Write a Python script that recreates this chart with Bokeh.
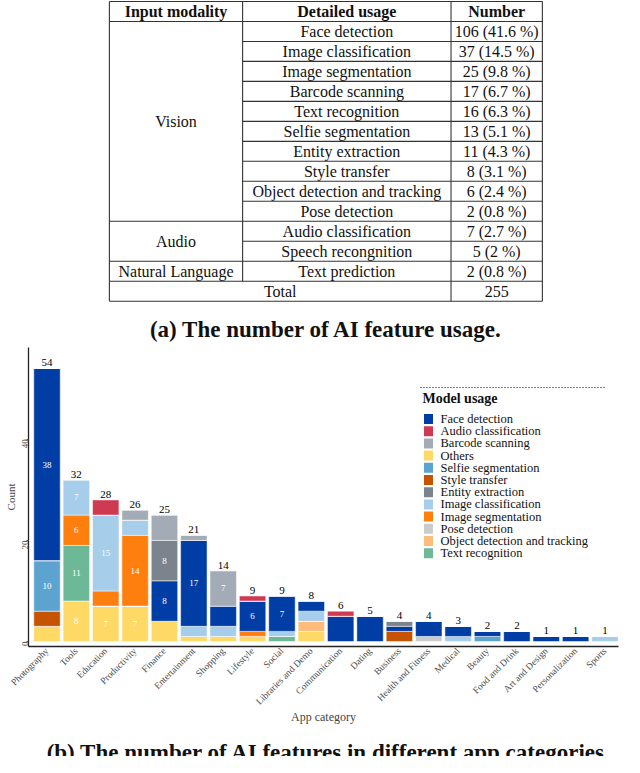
from math import pi
import numpy as np
from bokeh.plotting import figure
from bokeh.layouts import column
from bokeh.models import Range1d, FixedTicker, ColumnDataSource
from bokeh.core.properties import value
from bokeh.embed import file_html
from bokeh.resources import INLINE

SERIF = "Liberation Serif"

# ---------------- table data ----------------
headers = ["Input modality", "Detailed usage", "Number"]
modalities = ["Vision", "Audio", "Natural Language"]
modality_rows = [10, 2, 1]
usages = ["Face detection", "Image classification", "Image segmentation", "Barcode scanning",
          "Text recognition", "Selfie segmentation", "Entity extraction", "Style transfer",
          "Object detection and tracking", "Pose detection", "Audio classification",
          "Speech recongnition", "Text prediction"]
numbers = ["106 (41.6 %)", "37 (14.5 %)", "25 (9.8 %)", "17 (6.7 %)", "16 (6.3 %)",
           "13 (5.1 %)", "11 (4.3 %)", "8 (3.1 %)", "6 (2.4 %)", "2 (0.8 %)",
           "7 (2.7 %)", "5 (2 %)", "2 (0.8 %)"]
total_label = "Total"
total_value = "255"
caption_a = "(a) The number of AI feature usage."
caption_b = "(b) The number of AI features in different app categories"

# ---------------- chart data ----------------
categories = ["Photography", "Tools", "Education", "Productivity", "Finance", "Entertainment",
              "Shopping", "Lifestyle", "Social", "Libraries and Demo", "Communication", "Dating",
              "Business", "Health and Fitness", "Medical", "Beauty", "Food and Drink",
              "Art and Design", "Personalization", "Sports"]
face_detection       = [38, 0, 0, 0, 8, 17, 4, 6, 7, 2, 5, 5, 1, 3, 2, 1, 2, 1, 1, 0]
audio_classification = [0, 0, 3, 0, 0, 0, 0, 1, 0, 0, 1, 0, 0, 0, 0, 0, 0, 0, 0, 0]
barcode_scanning     = [0, 0, 0, 2, 5, 1, 7, 0, 0, 0, 0, 0, 0, 0, 0, 0, 0, 0, 0, 0]
others               = [3, 8, 7, 7, 4, 1, 1, 1, 0, 2, 0, 0, 0, 0, 0, 0, 0, 0, 0, 0]
selfie_segmentation  = [10, 0, 0, 0, 0, 0, 0, 0, 0, 0, 0, 0, 0, 0, 0, 1, 0, 0, 0, 0]
style_transfer       = [3, 0, 0, 0, 0, 0, 0, 0, 0, 0, 0, 0, 2, 0, 0, 0, 0, 0, 0, 0]
entity_extraction    = [0, 0, 0, 0, 8, 0, 0, 0, 0, 0, 0, 0, 1, 0, 0, 0, 0, 0, 0, 0]
image_classification = [0, 7, 15, 3, 0, 2, 2, 0, 1, 2, 0, 0, 0, 0, 1, 0, 0, 0, 0, 1]
image_segmentation   = [0, 6, 3, 14, 0, 0, 0, 1, 0, 0, 0, 0, 0, 0, 0, 0, 0, 0, 0, 0]
pose_detection       = [0, 0, 0, 0, 0, 0, 0, 0, 0, 0, 0, 0, 0, 1, 0, 0, 0, 0, 0, 0]
object_detection     = [0, 0, 0, 0, 0, 0, 0, 0, 0, 2, 0, 0, 0, 0, 0, 0, 0, 0, 0, 0]
text_recognition     = [0, 11, 0, 0, 0, 0, 0, 0, 1, 0, 0, 0, 0, 0, 0, 0, 0, 0, 0, 0]
y_ticks = [0, 20, 40]

legend_title = "Model usage"
legend_order = ["Face detection", "Audio classification", "Barcode scanning", "Others",
                "Selfie segmentation", "Style transfer", "Entity extraction",
                "Image classification", "Image segmentation", "Pose detection",
                "Object detection and tracking", "Text recognition"]
series = {
    "Face detection": face_detection, "Audio classification": audio_classification,
    "Barcode scanning": barcode_scanning, "Others": others,
    "Selfie segmentation": selfie_segmentation, "Style transfer": style_transfer,
    "Entity extraction": entity_extraction, "Image classification": image_classification,
    "Image segmentation": image_segmentation, "Pose detection": pose_detection,
    "Object detection and tracking": object_detection, "Text recognition": text_recognition,
}
colors = {
    "Face detection": "#003DA5", "Audio classification": "#CF3A52",
    "Barcode scanning": "#A3ABB6", "Others": "#FFD966",
    "Selfie segmentation": "#5DA3D0", "Style transfer": "#C65300",
    "Entity extraction": "#7B838D", "Image classification": "#A6CDE9",
    "Image segmentation": "#FF7F0E", "Pose detection": "#CBCBCB",
    "Object detection and tracking": "#FFBC7A", "Text recognition": "#6DB997",
}
stack_order = ["Others", "Text recognition", "Style transfer", "Selfie segmentation",
               "Pose detection", "Object detection and tracking", "Image segmentation",
               "Image classification", "Face detection", "Entity extraction",
               "Barcode scanning", "Audio classification"]

TXT = "#111111"
W = 620

# ================= TABLE FIGURE =================
TAB_H = 342
t = figure(width=W, height=TAB_H, x_range=Range1d(8, 8 + W), y_range=Range1d(348, 0),
           output_backend="svg", toolbar_location=None, min_border=0,
           x_axis_location=None, y_axis_location=None)
t.grid.visible = False
t.outline_line_color = None

H = 20.33
T = 1.0
X0, X1, X2, X3 = 93, 233, 452, 548
n = len(usages)
bottom = T + (n + 2) * H

hx0, hx1, hy = [X0, X0], [X3, X3], [T, T + H]
ends = set((np.cumsum(modality_rows) - 1).tolist())
for i in range(n):
    hx0.append(X0 if i in ends else X1); hx1.append(X3); hy.append(T + (i + 2) * H)
hx0.append(X0); hx1.append(X3); hy.append(bottom)
t.segment(x0=hx0, y0=hy, x1=hx1, y1=hy, line_color="#333333", line_width=1.1)
vx = [X0, X1, X2, X3]
vy1 = [bottom, T + (n + 1) * H, bottom, bottom]
t.segment(x0=vx, y0=[T] * 4, x1=vx, y1=vy1, line_color="#333333", line_width=1.1)

FS = "16px"
cx = [(X0 + X1) / 2, (X1 + X2) / 2, (X2 + X3) / 2]
t.text(x=cx, y=[T + H / 2] * 3, text=headers, text_font=value(SERIF), text_font_size=FS,
       text_font_style="bold", text_align="center", text_baseline="middle", text_color=TXT)
ry = [T + (i + 1.5) * H for i in range(n)]
t.text(x=[cx[1]] * n, y=ry, text=usages, text_font=value(SERIF), text_font_size=FS,
       text_align="center", text_baseline="middle", text_color=TXT)
t.text(x=[cx[2]] * n, y=ry, text=numbers, text_font=value(SERIF), text_font_size=FS,
       text_align="center", text_baseline="middle", text_color=TXT)
starts = np.concatenate([[0], np.cumsum(modality_rows)[:-1]])
my = [T + (s + 1 + r / 2) * H for s, r in zip(starts, modality_rows)]
t.text(x=[cx[0]] * len(modalities), y=my, text=modalities, text_font=value(SERIF),
       text_font_size=FS, text_align="center", text_baseline="middle", text_color=TXT)
t.text(x=[(X0 + X2) / 2, cx[2]], y=[T + (n + 1.5) * H] * 2, text=[total_label, total_value],
       text_font=value(SERIF), text_font_size=FS, text_align="center",
       text_baseline="middle", text_color=TXT)
t.text(x=[321], y=[335], text=[caption_a], text_font=value(SERIF), text_font_size="23px",
       text_font_style="bold", text_align="center", text_baseline="middle", text_color=TXT)

# ================= CHART FIGURE =================
idx = list(range(len(categories)))
data = {"x": idx}
for k in stack_order:
    data[k] = series[k]
src = ColumnDataSource(data)

XR = (-0.63, 19.46)
YR = (-0.99, 58.15)
CH_H, BT, BB, BL, BR = 396, 5, 92, 28, 2
p = figure(width=W, height=CH_H, x_range=Range1d(*XR), y_range=Range1d(*YR),
           output_backend="svg", toolbar_location=None,
           min_border_left=BL, min_border_right=BR, min_border_top=BT, min_border_bottom=BB)
p.grid.visible = False
p.outline_line_color = None

rs = p.vbar_stack(stack_order, x="x", width=0.9, source=src,
                  color=[colors[k] for k in stack_order], line_color="white", line_width=0.5)

# segment labels
base = np.zeros(len(categories))
lx, ly, lt = [], [], []
for k in stack_order:
    v = np.array(series[k], dtype=float)
    for i in idx:
        if v[i] >= 6:
            lx.append(i); ly.append(base[i] + v[i] / 2); lt.append(str(int(v[i])))
    base += v
p.text(x=lx, y=ly, text=lt, text_font=value(SERIF), text_font_size="9px", text_color="white",
       text_align="center", text_baseline="middle")
totals = base.tolist()
p.text(x=idx, y=totals, text=[str(int(v)) for v in totals], text_font=value(SERIF),
       text_font_size="11px", text_color="black", text_align="center",
       text_baseline="bottom", y_offset=-2)

# axes
p.xaxis.ticker = FixedTicker(ticks=idx)
p.xaxis.major_label_overrides = {i: c for i, c in zip(idx, categories)}
p.xaxis.major_label_orientation = pi / 4
p.xaxis.major_label_text_font = SERIF
p.xaxis.major_label_text_font_size = "9.5px"
p.xaxis.major_label_text_color = "#4D4D4D"
p.xaxis.major_tick_out = 0
p.xaxis.major_tick_in = 0
p.xaxis.major_tick_line_color = None
p.xaxis.minor_tick_line_color = None
p.xaxis.major_label_standoff = 3
p.xaxis.axis_label = "App category"
p.xaxis.axis_label_text_font = SERIF
p.xaxis.axis_label_text_font_style = "normal"
p.xaxis.axis_label_text_font_size = "12px"
p.xaxis.axis_label_standoff = -3

p.yaxis.ticker = FixedTicker(ticks=y_ticks)
p.yaxis.major_label_orientation = pi / 2
p.yaxis.major_label_text_font = SERIF
p.yaxis.major_label_text_font_size = "9px"
p.yaxis.major_label_text_color = "#4D4D4D"
p.yaxis.major_tick_out = 2
p.yaxis.major_tick_in = 0
p.yaxis.major_tick_line_color = "#4D4D4D"
p.yaxis.minor_tick_line_color = None
p.yaxis.major_label_standoff = 1
p.yaxis.axis_label = "Count"
p.yaxis.axis_label_text_font = SERIF
p.yaxis.axis_label_text_font_style = "normal"
p.yaxis.axis_label_text_font_size = "11px"
p.yaxis.axis_label_standoff = 0
for ax in (p.xaxis, p.yaxis):
    ax.axis_line_color = "#222222"
    ax.axis_line_width = 1.3

# ---- legend (drawn with glyphs; positions given in figure pixels) ----
FR_W = W - BL - BR
FR_H = CH_H - BT - BB
def dx(px):   # figure pixel x -> data x
    return XR[0] + (px - BL) / FR_W * (XR[1] - XR[0])
def dy(py):   # figure pixel y (from top) -> data y
    return YR[0] + (BT + FR_H - py) / FR_H * (YR[1] - YR[0])

LEG_X, LEG_RULE, LEG_TITLE, LEG_TOP, LEG_STEP = 420, 45, 56, 76.5, 12.2   # figure pixels
key_y = [dy(LEG_TOP + i * LEG_STEP) for i in range(len(legend_order))]
p.rect(x=[dx(LEG_X + 8)] * len(legend_order), y=key_y, width=9, height=10,
       width_units="screen", height_units="screen",
       color=[colors[k] for k in legend_order], line_color=None)
p.text(x=[dx(LEG_X + 20)] * len(legend_order), y=key_y, text=legend_order,
       text_font=value(SERIF), text_font_size="12.5px", text_color=TXT,
       text_align="left", text_baseline="middle")
p.text(x=[dx(LEG_X + 2)], y=[dy(LEG_TITLE)], text=[legend_title], text_font=value(SERIF),
       text_font_size="14px", text_font_style="bold", text_color=TXT,
       text_align="left", text_baseline="middle")
p.segment(x0=[dx(LEG_X)], y0=[dy(LEG_RULE)], x1=[dx(LEG_X + 185)], y1=[dy(LEG_RULE)],
          line_color="black", line_dash="1 2", line_width=1)

# ================= CAPTION (b) =================
CAP_H = 756 - TAB_H - CH_H
c = figure(width=W, height=CAP_H, x_range=Range1d(8, 8 + W), y_range=Range1d(CAP_H, 0),
           output_backend="svg", toolbar_location=None, min_border=0,
           x_axis_location=None, y_axis_location=None)
c.grid.visible = False
c.outline_line_color = None
c.text(x=[321], y=[1], text=[caption_b], text_font=value(SERIF), text_font_size="23px",
       text_font_style="bold", text_align="center", text_baseline="top", text_color=TXT)

layout = column(t, p, c, spacing=0)
open("out.html", "w").write(file_html(layout, INLINE))
